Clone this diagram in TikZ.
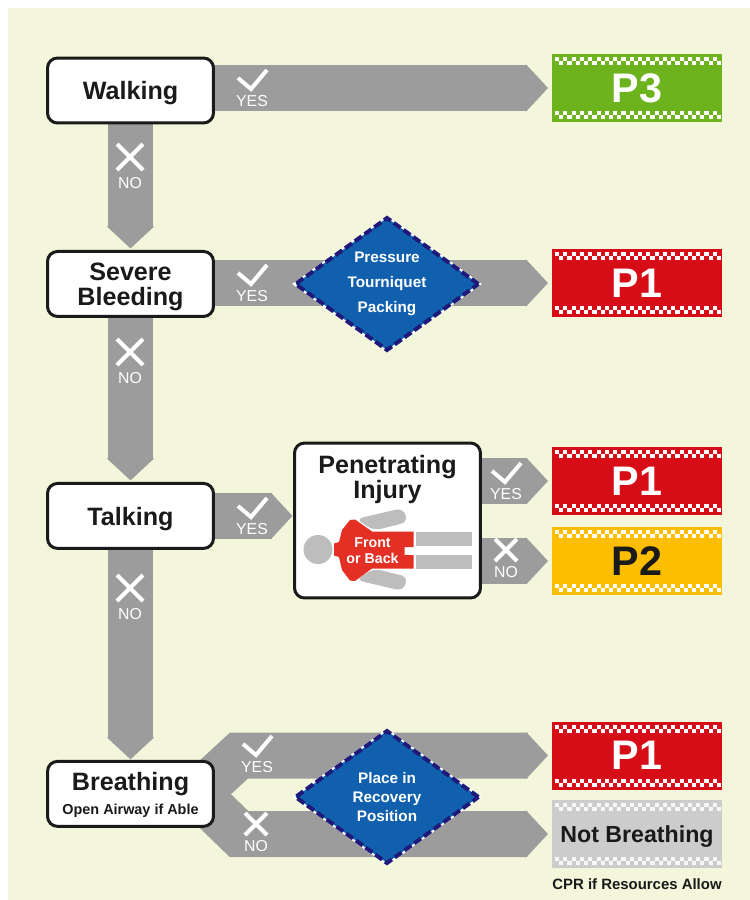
\documentclass[tikz,border=0pt]{standalone}
\usepackage{fontspec}
\setmainfont{Liberation Sans}
\usetikzlibrary{arrows.meta,backgrounds,calc,positioning,shapes.geometric}

\definecolor{paper}{HTML}{F3F6DA}
\definecolor{flowgray}{HTML}{9C9C9C}
\definecolor{inkblack}{HTML}{1A1A1A}
\definecolor{tagred}{HTML}{D60D17}
\definecolor{taggreen}{HTML}{6DB31E}
\definecolor{tagamber}{HTML}{FDBE00}
\definecolor{taggray}{HTML}{CCCCCC}
\definecolor{actionblue}{HTML}{1060AE}
\definecolor{actionnavy}{HTML}{1F1A7A}
\definecolor{bodygray}{HTML}{BDBDBD}
\definecolor{bodyred}{HTML}{E43024}

\newcommand{\tagchecks}[2]{
    \foreach \i in {0,2,...,38} {
        \fill[#2] ([shift={(3+4.15*\i,3)}]#1.north west) rectangle ++(4.15,4);
        \fill[#2] ([shift={(3+4.15*\i+4.15,7)}]#1.north west) rectangle ++(4.15,4);
        \fill[#2] ([shift={(3+4.15*\i,-11)}]#1.south west) rectangle ++(4.15,4);
        \fill[#2] ([shift={(3+4.15*\i+4.15,-7)}]#1.south west) rectangle ++(4.15,4);
    }
}

\begin{document}
\begin{tikzpicture}[x=0.02cm, y=-0.02cm, thick,
        main/.style = {draw=inkblack, fill=white, rectangle, rounded corners=.2cm, line width=.06cm, outer sep=0,
            minimum width=3.32cm, minimum height=1.3cm, inner sep=0, align=center, text=inkblack, text depth=0pt,
            font=\bfseries\fontsize{14.3}{14.2}\selectfont},
        tag/.style = {rectangle, outer sep=0, inner sep=0, minimum width=3.4cm, minimum height=1.36cm, text depth=0pt,
            text=white, font=\bfseries\fontsize{23.5}{24}\selectfont},
        action/.style = {diamond, aspect=1.39, draw=actionnavy, fill=actionblue, line width=.08cm,
            preaction={draw=white, solid, line width=.08cm},
            dash pattern=on .17cm off .07cm, inner sep=0, outer sep=0, minimum width=3.66cm, minimum height=2.64cm,
            align=center, text=white},
        flow/.style = {draw=flowgray, line width=.92cm, line join=miter,
            -{Triangle[length=.44cm, width=.92cm]}, shorten >=.08cm},
        markline/.style = {draw=white, line width=.08cm},
        marktext/.style = {text=white, inner sep=0, font=\fontsize{9}{9}\selectfont},
        pics/yesmark/.style = {code = {
            \draw[markline] (-14,-23) -- (-1,-12) -- (15,-31);
            \node[marktext] (-text) at (0,0) {YES};
        }},
        pics/nomark/.style = {code = {
            \draw[markline] (-#1/2,-#1*1.5) -- (#1/2,-#1/2) (-#1/2,-#1/2) -- (#1/2,-#1*1.5);
            \node[marktext] (-text) at (0,0) {NO};
        }}]

    \useasboundingbox (0,0) rectangle (750,900);

    \node[main] (walk) at (130.5,90.5) {Walking};
    \node[main] (bleed) [below of=walk, node distance=3.87cm] {Severe\\Bleeding};
    \node[main] (talk) [below of=bleed, node distance=4.64cm] {Talking};
    \node[main] (breath) [below of=talk, node distance=5.56cm]
        {Breathing\\[-.02cm]{\fontsize{8.2}{10}\selectfont Open Airway if Able}};
    \node[main, minimum width=3.72cm, minimum height=3.1cm,
        label={[name=injurytitle, anchor=north, align=center, yshift=-.12cm, text=inkblack,
            font=\bfseries\fontsize{14.3}{14.2}\selectfont]north:Penetrating\\Injury}] (injury) at (387.5,520.5) {};

    \node[tag, fill=taggreen] (green) at (637,88) {P3};
    \node[tag, fill=tagred] (red1) at (637,283) {P1};
    \node[tag, fill=tagred] (red2) at (637,481) {P1};
    \node[tag, fill=tagamber, text=inkblack] (amber) [below of=red2, node distance=1.6cm] {P2};
    \node[tag, fill=tagred] (red3) at (637,755.5) {P1};
    \node[tag, fill=taggray, text=inkblack, font=\bfseries\fontsize{13.2}{14}\selectfont,
        label={[name=cprtext, text=inkblack, inner sep=0, yshift=-.2cm,
            font=\bfseries\fontsize{8.5}{10}\selectfont]below:CPR if Resources Allow}] (gray) at (637,834) {Not Breathing};

    \tagchecks{green}{white}
    \tagchecks{red1}{white}
    \tagchecks{red2}{white}
    \tagchecks{amber}{white}
    \tagchecks{red3}{white}
    \tagchecks{gray}{white!85!taggray}

    \node[action, font=\bfseries\fontsize{8.7}{14.2}\selectfont] (pressure) at (387,284) {Pressure\\Tourniquet\\Packing};
    \node[action, font=\bfseries\fontsize{8.7}{10.8}\selectfont] (recovery) at (387,797) {Place in\\Recovery\\Position};

    \coordinate (forkstart) at ($(breath.east)+(-16,0)$);
    \coordinate (forkyes) at (239,755.5);
    \coordinate (forkno) at (239,834);

    \begin{scope}[on background layer]
        \fill[white] (0,0) rectangle (750,900);
        \fill[paper] (8,8) rectangle (750,900);

        \draw[flow] (walk.east |- green.west) -- (green.west);
        \draw[flow] (bleed.east |- red1.west) -- (red1.west);
        \draw[flow, shorten >=.04cm] (talk.east) -- (injury.west |- talk.east);
        \draw[flow] (injury.east |- red2.west) -- (red2.west);
        \draw[flow] (injury.east |- amber.west) -- (amber.west);
        \draw[flow] (forkstart) -- (forkyes) -- (red3.west);
        \draw[flow] (forkstart) -- (forkno) -- (gray.west);

        \draw[flow, shorten >=.06cm] (walk.south) -- (bleed.north);
        \draw[flow, shorten >=.06cm] (bleed.south) -- (talk.north);
        \draw[flow, shorten >=.04cm] (talk.south) -- (breath.north);
    \end{scope}

    \pic (yes1) at (252,101) {yesmark};
    \pic (yes2) at (252,296) {yesmark};
    \pic (yes3) at (252,529) {yesmark};
    \pic (yes4) at (506,494) {yesmark};
    \pic (yes5) at (257,767) {yesmark};
    \pic (no1) at (130,183) {nomark=26};
    \pic (no2) at (130,378) {nomark=26};
    \pic (no3) at (130,614) {nomark=26};
    \pic (no4) at (506,572) {nomark=22};
    \pic (no5) at (256,846) {nomark=22};

    % figure in the injury box
    \fill[bodygray] (318,549.5) circle (14.5);
    \fill[bodygray] (415.5,531.5) rectangle (472,546);
    \fill[bodygray] (415.5,555) rectangle (472,568.5);
    \fill[bodygray, rounded corners=.14cm] (356,519) -- (403,508) -- (408,522) -- (374,530.5) -- cycle;
    \fill[bodygray, rounded corners=.14cm] (356,580) -- (403,591) -- (408,577) -- (374,568.5) -- cycle;
    \fill[bodyred] (334,543.5) -- (339,542) -- (342,530) -- (350,520) -- (355,519.5) -- (372,531.5)
        -- (413.5,531.5) -- (413.5,547) -- (404.5,547) -- (404.5,555) -- (413.5,555) -- (413.5,568.5)
        -- (372,568.5) -- (355,581) -- (350,580.5) -- (342,570) -- (339,557) -- (334,555.5) -- cycle;
    \node[text=white, inner sep=0, align=center, font=\bfseries\fontsize{8.1}{9.2}\selectfont] (bodytext) at (372.5,551) {Front\\or Back};

\end{tikzpicture}
\end{document}
